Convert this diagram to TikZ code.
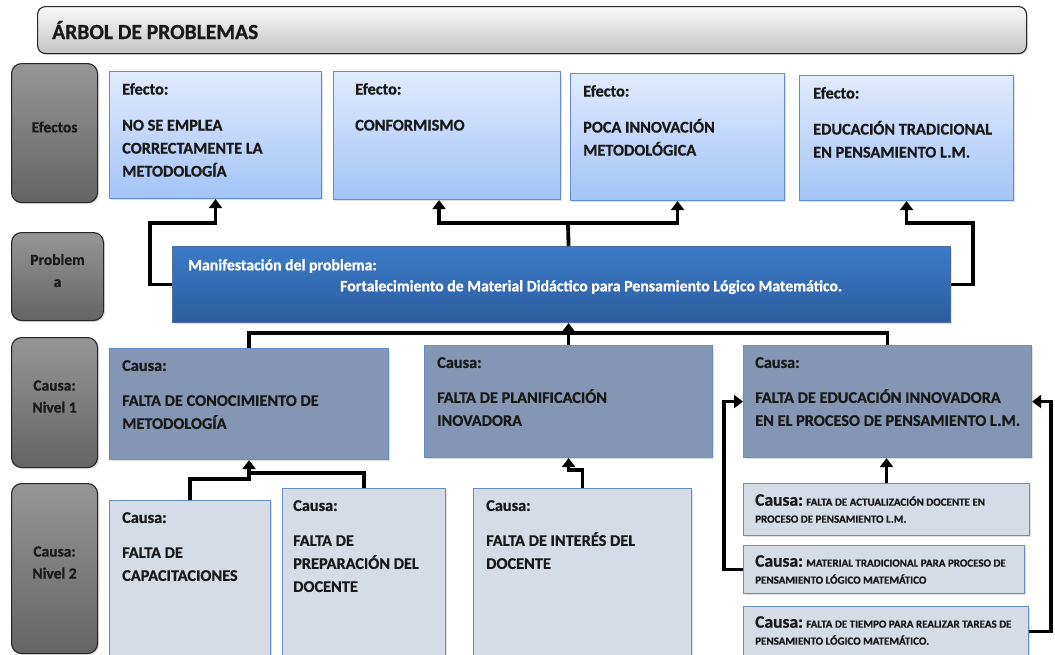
\documentclass[tikz,border=0pt]{standalone}
\usepackage{fontspec}
\setmainfont{Carlito}[BoldFeatures={FakeBold=0.8}]
\usetikzlibrary{arrows.meta,shadows}

\definecolor{grisA}{RGB}{150,150,150}
\definecolor{grisB}{RGB}{100,100,100}
\definecolor{tituloA}{RGB}{248,248,248}
\definecolor{tituloB}{RGB}{196,196,196}
\definecolor{efectoA}{RGB}{224,235,253}
\definecolor{efectoB}{RGB}{163,196,247}
\definecolor{borde}{RGB}{100,140,205}
\definecolor{probA}{RGB}{60,123,200}
\definecolor{probB}{RGB}{44,92,158}
\definecolor{nivelA}{RGB}{131,151,180}
\definecolor{nivelB}{RGB}{213,220,230}

\begin{document}
\begin{tikzpicture}[x=1pt,y=-1pt,
	sombra/.style={drop shadow={opacity=0.25,shadow xshift=1.5pt,shadow yshift=-1.5pt}},
	caja/.style={rectangle, anchor=north west, inner sep=0pt, line width=1.1pt, draw=borde, sombra},
	titulo/.style={caja, draw=black!85, rounded corners=8pt, top color=tituloA, bottom color=tituloB},
	etiqueta/.style={caja, draw=black!85, rounded corners=10pt, top color=grisA, bottom color=grisB},
	etiq/.style={align=center, yshift=6pt, text=black!90, font=\bfseries\fontsize{15.5}{22}\selectfont},
	efecto/.style={caja, top color=efectoA, bottom color=efectoB},
	problema/.style={caja, draw=borde!80!black, top color=probA, bottom color=probB},
	causa/.style={caja, fill=nivelA},
	causaB/.style={caja, fill=nivelB},
	texto/.style={anchor=north west, align=left, inner sep=0pt, text=black!90,
		font=\bfseries\fontsize{16.3}{23}\selectfont},
	chico/.style={texto, font=\bfseries\fontsize{11}{17}\selectfont},
	linea/.style={line width=3.8pt, black},
	flecha/.style={linea, -{Triangle[width=13pt,length=9pt]}}]

	\path[use as bounding box, fill=white] (0,0) rectangle (1055,654);

	\node[titulo, minimum width=989, minimum height=47] (titulo) at (37,6) {};
	\node[texto, anchor=west, font=\bfseries\fontsize{21.5}{24}\selectfont] (titulotxt) at ([xshift=15pt]titulo.west) {ÁRBOL DE PROBLEMAS};

	\node[etiqueta, minimum width=86, minimum height=139, label={[etiq]center:Efectos}] (efectos) at (11,63) {};
	\node[etiqueta, minimum width=92, minimum height=88, label={[etiq]center:{Problem\\a}}] (problem) at (11,232) {};
	\node[etiqueta, minimum width=86, minimum height=130, label={[etiq]center:{Causa:\\Nivel 1}}] (nivel1) at (11,337) {};
	\node[etiqueta, minimum width=86, minimum height=170, label={[etiq]center:{Causa:\\Nivel 2}}] (nivel2) at (11,483) {};

	\node[efecto, minimum width=212, minimum height=127] (e1) at (109,71) {};
	\node[efecto, minimum width=227, minimum height=128] (e2) at (333,71) {};
	\node[efecto, minimum width=214, minimum height=127] (e3) at (570,73) {};
	\node[efecto, minimum width=214, minimum height=125] (e4) at (799,75) {};

	\node[texto] (e1t) at ([shift={(13pt,-12pt)}]e1.north west) {Efecto:\\[13pt]NO SE EMPLEA\\CORRECTAMENTE LA\\METODOLOGÍA};
	\node[texto] (e2t) at ([shift={(22pt,-12pt)}]e2.north west) {Efecto:\\[13pt]CONFORMISMO};
	\node[texto] (e3t) at ([shift={(13pt,-12pt)}]e3.north west) {Efecto:\\[13pt]POCA INNOVACIÓN\\METODOLÓGICA};
	\node[texto] (e4t) at ([shift={(14pt,-12pt)}]e4.north west) {Efecto:\\[13pt]EDUCACIÓN TRADICIONAL\\EN PENSAMIENTO L.M.};

	\node[problema, minimum width=778, minimum height=76] (prob) at (172,246) {};
	\node[texto, text=white, font=\bfseries\fontsize{15.8}{21}\selectfont] (probt) at ([shift={(16pt,-13pt)}]prob.north west)
		{Manifestación del problema:\\\hspace*{152pt}Fortalecimiento de Material Didáctico para Pensamiento Lógico Matemático.};

	\node[causa, minimum width=279, minimum height=111] (c1) at (109,348) {};
	\node[causa, minimum width=288, minimum height=112] (c2) at (424,345) {};
	\node[causa, minimum width=288, minimum height=112] (c3) at (743,345) {};

	\node[texto] (c1t) at ([shift={(13pt,-12pt)}]c1.north west) {Causa:\\[12pt]FALTA DE CONOCIMIENTO DE\\METODOLOGÍA};
	\node[texto] (c2t) at ([shift={(13pt,-12pt)}]c2.north west) {Causa:\\[12pt]FALTA DE PLANIFICACIÓN\\INOVADORA};
	\node[texto] (c3t) at ([shift={(12pt,-12pt)}]c3.north west) {Causa:\\[12pt]FALTA DE EDUCACIÓN INNOVADORA\\EN EL PROCESO DE PENSAMIENTO L.M.};

	\node[causaB, minimum width=161, minimum height=165] (l2a) at (109,500) {};
	\node[causaB, minimum width=163, minimum height=177] (l2b) at (282,488) {};
	\node[causaB, minimum width=218, minimum height=177] (l2c) at (473,488) {};

	\node[texto] (l2at) at ([shift={(13pt,-12pt)}]l2a.north west) {Causa:\\[12pt]FALTA DE\\CAPACITACIONES};
	\node[texto] (l2bt) at ([shift={(11pt,-12pt)}]l2b.north west) {Causa:\\[12pt]FALTA DE\\PREPARACIÓN DEL\\DOCENTE};
	\node[texto] (l2ct) at ([shift={(13pt,-12pt)}]l2c.north west) {Causa:\\[12pt]FALTA DE INTERÉS DEL\\DOCENTE};

	\node[causaB, minimum width=286, minimum height=52] (s1) at (743,483) {};
	\node[causaB, minimum width=281, minimum height=48] (s2) at (743,545) {};
	\node[causaB, minimum width=285, minimum height=50] (s3) at (743,606) {};

	\node[chico] (s1t) at ([shift={(12pt,-11pt)}]s1.north west) {{\fontsize{17.5}{17}\selectfont Causa:} FALTA DE ACTUALIZACIÓN DOCENTE EN\\PROCESO DE PENSAMIENTO L.M.};
	\node[chico] (s2t) at ([shift={(12pt,-10pt)}]s2.north west) {{\fontsize{17.5}{17}\selectfont Causa:} MATERIAL TRADICIONAL PARA PROCESO DE\\PENSAMIENTO LÓGICO MATEMÁTICO};
	\node[chico] (s3t) at ([shift={(12pt,-10pt)}]s3.north west) {{\fontsize{17.5}{17}\selectfont Causa:} FALTA DE TIEMPO PARA REALIZAR TAREAS DE\\PENSAMIENTO LÓGICO MATEMÁTICO.};

	\coordinate (codoIzq) at (150,223);
	\coordinate (nudo) at (568,223);
	\coordinate (codoDer) at (973,223);

	\draw[flecha] (prob.west) -| (codoIzq) -| (e1.south);
	\draw[flecha] ([xshift=7pt]prob.north) -- (nudo) -| ([xshift=-8pt]e2.south);
	\draw[flecha] (nudo) -| (e3.south);
	\draw[flecha] (prob.east) -| (codoDer) -| (e4.south);

	\draw[linea] (c1.north) |- (c2.north |- 0,333) -| (c3.north);
	\draw[flecha] (c2.north) -- (c2.north |- prob.south);

	\draw[flecha] (l2a.north) |- (c1.south |- 0,479) -- (c1.south);
	\draw[linea] (l2b.north) |- (c1.south |- 0,473);
	\draw[flecha] (l2c.north) |- (c2.south |- 0,470) -- (c2.south);

	\draw[flecha] (s1.north) -- (s1.north |- c3.south);
	\draw[flecha] (s2.west) -- ++(-19,0) |- (c3.west);
	\draw[flecha] (s3.east) -- ++(22,0) |- (c3.east);
\end{tikzpicture}
\end{document}
